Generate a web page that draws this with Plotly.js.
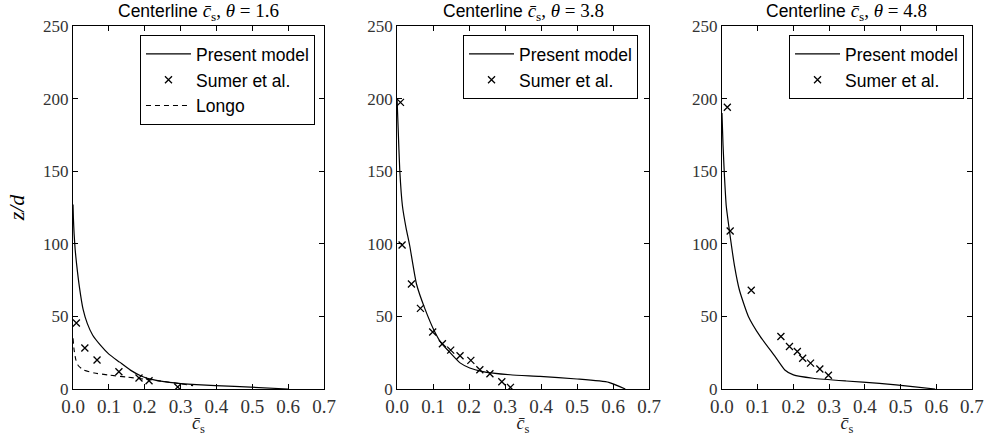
<!DOCTYPE html>
<html>
<head>
<meta charset="utf-8">
<script src="https://cdn.plot.ly/plotly-3.0.1.min.js"></script>
<style>html,body{margin:0;padding:0;background:#fff;}</style>
</head>
<body>
<div id="chart" style="width:984px;height:436px;"></div>
<script>
// ---- data ----
const thetas = ["1.6", "3.8", "4.8"];

const model1_x = [0, 0.001, 0.003, 0.006, 0.010, 0.018, 0.028, 0.040, 0.055, 0.077, 0.10, 0.13, 0.16, 0.19, 0.22, 0.269, 0.344, 0.45, 0.6];
const model1_z = [127, 118, 107, 96, 86, 70, 55, 45, 37, 30, 24, 18.5, 13, 9, 6.6, 4.6, 3.0, 1.8, 0];
const sumer1_x = [0.0094, 0.033, 0.067, 0.128, 0.184, 0.212, 0.292];
const sumer1_z = [45.4, 28.2, 20, 11.9, 7.6, 5.7, 1.4];
const longo1_x = [0, 0.003, 0.008, 0.015, 0.03, 0.06, 0.1, 0.15, 0.2, 0.25, 0.3, 0.335];
const longo1_z = [35, 27, 20, 16, 13, 11, 9.6, 8.2, 6.8, 5.3, 3.6, 2.3];

const model2_x = [0, 0.003, 0.0075, 0.015, 0.025, 0.035, 0.054, 0.077, 0.105, 0.123, 0.142, 0.175, 0.202, 0.235, 0.314, 0.397, 0.5, 0.588, 0.634];
const model2_z = [200, 180, 151, 126, 111, 99, 72.3, 55.5, 39.2, 31.5, 26.5, 18, 14.5, 12.2, 9.8, 8.7, 6.9, 4.6, 0];
const sumer2_x = [0.0095, 0.014, 0.040, 0.065, 0.099, 0.126, 0.149, 0.175, 0.205, 0.230, 0.258, 0.291, 0.315];
const sumer2_z = [197.4, 99.2, 72.3, 55.5, 39.2, 31.2, 26.8, 22.9, 19.7, 13.3, 10.5, 5.0, 1.1];

const model3_x = [0, 0.003, 0.007, 0.012, 0.021, 0.035, 0.049, 0.074, 0.107, 0.149, 0.176, 0.2, 0.255, 0.348, 0.441, 0.534, 0.597];
const model3_z = [190, 168, 146.5, 126, 108.8, 85, 68, 50, 36.2, 22.3, 13.1, 9.7, 7.4, 5.5, 3.9, 1.6, 0];
const sumer3_x = [0.015, 0.023, 0.082, 0.165, 0.189, 0.211, 0.226, 0.248, 0.274, 0.298];
const sumer3_z = [194, 108.8, 68, 36.2, 29.3, 25.8, 21.2, 17.8, 13.8, 9.5];

const xTicks = [0, 0.1, 0.2, 0.3, 0.4, 0.5, 0.6, 0.7];
const xTickText = ["0.0", "0.1", "0.2", "0.3", "0.4", "0.5", "0.6", "0.7"];
const yTicks = [0, 50, 100, 150, 200, 250];

// ---- styling ----
const SERIF = "Liberation Serif, DejaVu Serif, serif";
const SANS = "Liberation Sans, Arial, sans-serif";
const lineStyle = {color: "#000", width: 1.2, shape: "spline", smoothing: 0.5};
const markerStyle = {symbol: "x-thin-open", size: 7, color: "#000", line: {color: "#000", width: 1.3}};

function modelTrace(x, z, xa, ya, leg) {
  return {x: x, y: z, xaxis: xa, yaxis: ya, type: "scatter", mode: "lines",
    name: "Present model", line: lineStyle, legend: leg, legendgroup: leg + "a"};
}
function sumerTrace(x, z, xa, ya, leg) {
  return {x: x, y: z, xaxis: xa, yaxis: ya, type: "scatter", mode: "markers",
    name: "Sumer et al.", marker: markerStyle, legend: leg, legendgroup: leg + "b"};
}

const traces = [
  modelTrace(model1_x, model1_z, "x", "y", "legend"),
  sumerTrace(sumer1_x, sumer1_z, "x", "y", "legend"),
  {x: longo1_x, y: longo1_z, xaxis: "x", yaxis: "y", type: "scatter", mode: "lines",
   name: "Longo", line: {color: "#000", width: 1.1, dash: "5px,4px", shape: "spline", smoothing: 0.5},
   legend: "legend", legendgroup: "legendc"},
  modelTrace(model2_x, model2_z, "x2", "y2", "legend2"),
  sumerTrace(sumer2_x, sumer2_z, "x2", "y2", "legend2"),
  modelTrace(model3_x, model3_z, "x3", "y3", "legend3"),
  sumerTrace(sumer3_x, sumer3_z, "x3", "y3", "legend3"),
];

const domains = [[0.0742, 0.3293], [0.4035, 0.6596], [0.7337, 0.9878]];

function xAxis(i) {
  return {
    domain: domains[i], range: [0, 0.7], anchor: i === 0 ? "y" : "y" + (i + 1),
    tickvals: xTicks, ticktext: xTickText, ticks: "inside", ticklen: 5, tickcolor: "#000",
    showline: true, linecolor: "#000", linewidth: 1, mirror: "ticks", showgrid: false, zeroline: false,
    tickfont: {family: SERIF, size: 19, color: "#333"},
    title: {text: "<i>c̄</i><sub>s</sub>", font: {family: SERIF, size: 18, color: "#222"}, standoff: 0}
  };
}
function yAxis(i) {
  const a = {
    domain: [0, 1], range: [0, 250], anchor: i === 0 ? "x" : "x" + (i + 1),
    tickvals: yTicks, ticks: "inside", ticklen: 5, tickcolor: "#000",
    showline: true, linecolor: "#000", linewidth: 1, mirror: "ticks", showgrid: false, zeroline: false,
    tickfont: {family: SERIF, size: 17, color: "#333"}
  };
  if (i === 0) {
    a.title = {text: "<i>z/d</i>", font: {family: SERIF, size: 22, color: "#000"}, standoff: 12};
  }
  return a;
}

function legendOpts(xRight) {
  return {x: xRight, xanchor: "right", y: 0.975, yanchor: "top",
    bgcolor: "#fff", bordercolor: "#000", borderwidth: 1,
    font: {family: SANS, size: 17.5, color: "#000"}, itemwidth: 45, tracegroupgap: 0};
}

const annotations = thetas.map((t, i) => ({
  xref: (i === 0 ? "x" : "x" + (i + 1)) + " domain", yref: "paper",
  x: 0.5, y: 1, yanchor: "bottom", xanchor: "center", yshift: 0, showarrow: false,
  text: "Centerline <span style=\"font-family:Liberation Serif;font-size:19px\"><i>c̄</i><sub>s</sub>, <i>θ</i> = " + t + "</span>",
  font: {family: SANS, size: 17.5, color: "#000"}
}));

const layout = {
  width: 984, height: 436,
  margin: {l: 0, r: 0, t: 26, b: 47},
  paper_bgcolor: "#fff", plot_bgcolor: "#fff",
  showlegend: true,
  xaxis: xAxis(0), xaxis2: xAxis(1), xaxis3: xAxis(2),
  yaxis: yAxis(0), yaxis2: yAxis(1), yaxis3: yAxis(2),
  legend: legendOpts(0.3201),
  legend2: legendOpts(0.6484),
  legend3: legendOpts(0.9797),
  annotations: annotations
};

Plotly.newPlot("chart", traces, layout, {displayModeBar: false, staticPlot: true});
</script>
</body>
</html>
